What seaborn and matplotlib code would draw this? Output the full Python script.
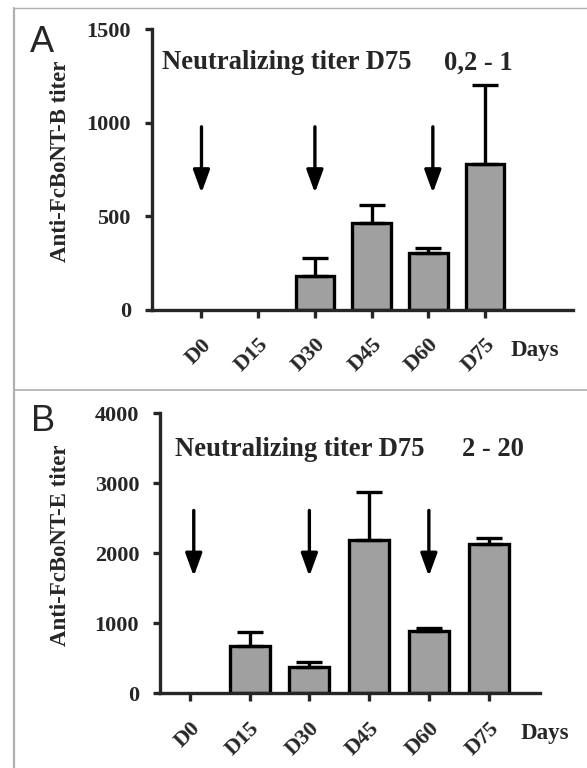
import matplotlib
matplotlib.use("Agg")
import matplotlib.pyplot as plt
import seaborn as sns
import numpy as np
import pandas as pd
from matplotlib.lines import Line2D

sns.set_theme(style="ticks")
plt.rcParams['font.family'] = ['Liberation Serif', 'DejaVu Serif']

days = ["D0", "D15", "D30", "D45", "D60", "D75"]
b_means = [np.nan, np.nan, 181, 463, 302, 778]
b_err_top = [np.nan, np.nan, 276, 560, 329, 1201]
e_means = [np.nan, 679, 380, 2185, 893, 2138]
e_err_top = [np.nan, 879, 451, 2874, 940, 2223]
arrow_days_A = ["D0", "D30", "D60"]
arrow_days_B = ["D0", "D30", "D60"]

W, H = 587, 768
fig = plt.figure(figsize=(W / 100, H / 100), dpi=100)

# panel frame lines (figure coords)
gray = "#b0b0b0"
fig.add_artist(Line2D([14/W, 1], [1 - 8/H, 1 - 8/H], color=gray, lw=1.0))
fig.add_artist(Line2D([14/W, 1], [1 - 390/H, 1 - 390/H], color=gray, lw=1.2))
fig.add_artist(Line2D([14/W, 14/W], [0, 1 - 8/H], color=gray, lw=1.6))

axA = fig.add_axes([151.7/W, 1 - 310/H, (573.3 - 151.7)/W, (310 - 29.3)/H])
axB = fig.add_axes([160/W, 1 - 693.3/H, (540 - 160)/W, (693.3 - 413.3)/H])

LW = 2.4


def panel(ax, means, errtop, ymax, yticks, ylabel, ylab_x, xlim, arrow_days, arrow_off,
          arrow_y, title, title_x, title_y, range_txt, range_x, letter, days_pos, bw):
    df = pd.DataFrame({"day": days, "titer": means})
    sns.barplot(data=df, x="day", y="titer", order=days, ax=ax, color="#a0a0a0",
                edgecolor="black", linewidth=LW, width=bw, saturation=1, errorbar=None)
    m = np.array(means, dtype=float)
    e = np.array(errtop, dtype=float) - m
    xs = np.arange(len(days))
    ok = ~np.isnan(m)
    ax.errorbar(xs[ok], m[ok], yerr=[np.zeros(ok.sum()), e[ok]], fmt="none",
                ecolor="black", elinewidth=LW, capsize=9.7, capthick=LW, zorder=1)
    ax.set_ylim(0, ymax)
    ax.set_xlim(*xlim)
    ax.set_yticks(yticks)
    ax.set_yticklabels([str(t) for t in yticks], fontsize=16, fontweight="bold")
    ax.set_xticks(xs)
    ax.set_xticklabels(days, fontsize=16, fontweight="bold", rotation=45,
                       ha="right", rotation_mode="anchor")
    ax.tick_params(axis="x", length=5.8, width=LW, pad=12, direction="out")
    ax.tick_params(axis="y", length=5, width=LW, pad=10, direction="out")
    ax.set_xlabel("")
    ax.set_ylabel(ylabel, fontsize=16.5, fontweight="bold", va="center")
    ax.yaxis.set_label_coords(ylab_x, 0.528)
    for s in ["top", "right"]:
        ax.spines[s].set_visible(False)
    for s in ["left", "bottom"]:
        ax.spines[s].set_linewidth(LW)
    for d, off in zip(arrow_days, arrow_off):
        xd = days.index(d) + off
        ax.annotate("", xy=(xd, arrow_y[1]), xytext=(xd, arrow_y[0]),
                    arrowprops=dict(arrowstyle="-|>,head_width=0.42,head_length=1.15",
                                    color="black", lw=LW, shrinkA=0, shrinkB=0))
    ax.text(title_x, title_y, title, transform=ax.transAxes, fontsize=19.2,
            fontweight="bold", ha="left", va="center")
    ax.text(range_x, title_y, range_txt, transform=ax.transAxes, fontsize=19.2,
            fontweight="bold", ha="left", va="center")
    fig.text(days_pos[0] / W, 1 - days_pos[1] / H, "Days", fontsize=16.5,
             fontweight="bold", ha="center", va="center")
    fig.text(letter[1] / W, 1 - letter[2] / H, letter[0], fontsize=26,
             family="Liberation Sans", ha="center", va="center")


panel(axA, b_means, b_err_top, 1500, [0, 500, 1000, 1500], "Anti-FcBoNT-B titer", -0.2175,
      (-0.878, 6.557), arrow_days_A, [0.0, 0.0, 0.08], (979, 626),
      "Neutralizing titer D75", 0.0237, 0.88, "0,2 - 1", 0.693,
      ("A", 42, 42.5), (535, 350), 0.68)
panel(axB, e_means, e_err_top, 4000, [0, 1000, 2000, 3000, 4000], "Anti-FcBoNT-E titer", -0.263,
      (-0.50, 5.86), arrow_days_B, [0.065, 0.0, 0.0], (2612, 1672),
      "Neutralizing titer D75", 0.0395, 0.869, "2 - 20", 0.794,
      ("B", 43, 421.5), (545, 733.3), 0.67)

fig.savefig("out.png", dpi=100)
